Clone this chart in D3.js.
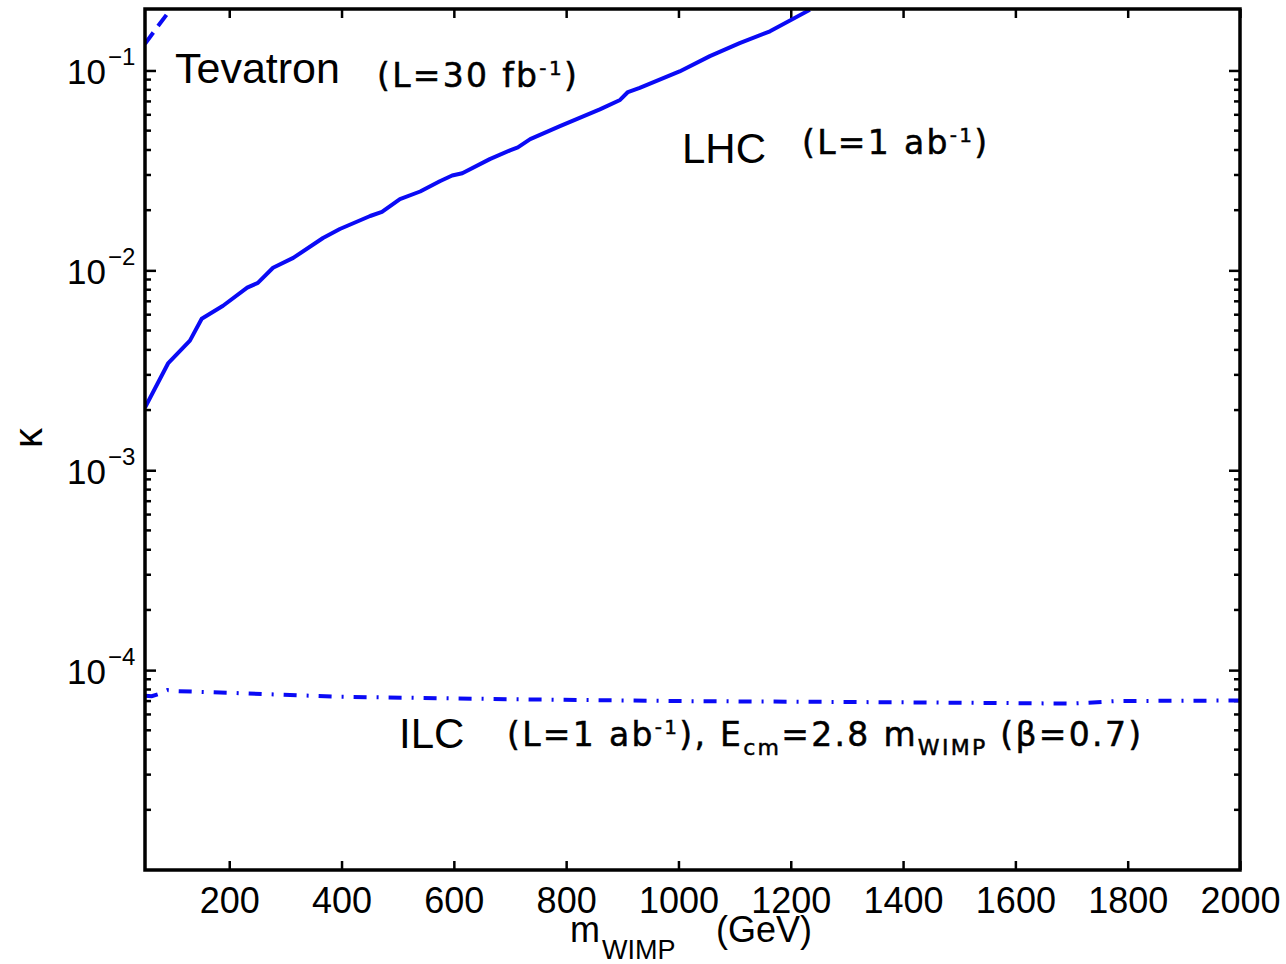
<!DOCTYPE html>
<html>
<head>
<meta charset="utf-8">
<script src="https://cdn.jsdelivr.net/npm/d3@7"></script>
<style>
  body { margin: 0; background: #fff; }
  svg { display: block; }
</style>
</head>
<body>
<div id="chart_div"></div>
<script>
// x axis ticks (GeV)
const xTicks = [200, 400, 600, 800, 1000, 1200, 1400, 1600, 1800, 2000];
// y axis decades
const yMajor = [1e-1, 1e-2, 1e-3, 1e-4];
const yExp = ["\u22121", "\u22122", "\u22123", "\u22124"];

// LHC (L = 1 ab^-1), solid
const lhcMass  = [50, 91, 130, 151, 189, 232, 251, 278, 314, 367, 397, 451, 472, 504, 540, 575, 597, 615, 664, 700, 714, 736, 789, 860, 896, 910, 931, 1002, 1056, 1109, 1163, 1234];
const lhcKappa = [0.00206, 0.00342, 0.00445, 0.00573, 0.00665, 0.00819, 0.00866, 0.0103, 0.01154, 0.01452, 0.0161, 0.0187, 0.0196, 0.0227, 0.0248, 0.0279, 0.0298, 0.0306, 0.0360, 0.0398, 0.0412, 0.0453, 0.0527, 0.0639, 0.0712, 0.0780, 0.0818, 0.0989, 0.118, 0.137, 0.157, 0.201];

// Tevatron (L = 30 fb^-1), dashed
const tevMass  = [50, 72, 100];
const tevKappa = [0.136, 0.165, 0.21];

// ILC (L = 1 ab^-1), dash-dot
const ilcMass  = [50, 62, 75, 90, 110, 200, 400, 700, 1000, 1400, 1700, 1780, 2000];
const ilcKappa = [7.45e-5, 7.4e-5, 7.6e-5, 7.95e-5, 7.85e-5, 7.7e-5, 7.35e-5, 7.15e-5, 7.0e-5, 6.9e-5, 6.8e-5, 7.0e-5, 7.05e-5];

const width = 1286;
const height = 964;
const pLeft = 145, pRight = 1240, pTop = 9, pBottom = 870;

const svg = d3.select("#chart_div")
    .append("svg")
    .attr("width", width)
    .attr("height", height);

const x = d3.scaleLinear()
    .domain([50, 2000])
    .range([pLeft, pRight]);

const y = d3.scaleLog()
    .domain([1e-5, 0.203])
    .range([pBottom, pTop]);

svg.append("clipPath")
    .attr("id", "plot")
    .append("rect")
    .attr("x", pLeft)
    .attr("y", pTop)
    .attr("width", pRight - pLeft)
    .attr("height", pBottom - pTop);

const tickFont = "'Liberation Sans', Arial, Helvetica, sans-serif";

// bottom axis with labels, ticks pointing in
const xAxis = svg.append("g")
    .attr("transform", `translate(0,${pBottom})`)
    .call(d3.axisBottom(x).tickValues(xTicks).tickSize(-9).tickPadding(17).tickFormat(d3.format("d")));
xAxis.select(".domain").remove();
xAxis.selectAll("line").attr("stroke", "#000").attr("stroke-width", 2.5);
xAxis.selectAll("text").attr("font-family", tickFont).attr("font-size", 36).attr("fill", "#000");

// top axis, ticks only
const xTop = svg.append("g")
    .attr("transform", `translate(0,${pTop})`)
    .call(d3.axisTop(x).tickValues(xTicks).tickSize(-9).tickFormat(""));
xTop.select(".domain").remove();
xTop.selectAll("line").attr("stroke", "#000").attr("stroke-width", 2.5);

// y major ticks left and right
const yLeft = svg.append("g")
    .attr("transform", `translate(${pLeft},0)`)
    .call(d3.axisLeft(y).tickValues(yMajor).tickSize(-11).tickFormat(""));
yLeft.select(".domain").remove();
yLeft.selectAll("line").attr("stroke", "#000").attr("stroke-width", 2.5);

const yRight = svg.append("g")
    .attr("transform", `translate(${pRight},0)`)
    .call(d3.axisRight(y).tickValues(yMajor).tickSize(-11).tickFormat(""));
yRight.select(".domain").remove();
yRight.selectAll("line").attr("stroke", "#000").attr("stroke-width", 2.5);

// minor log ticks
const minor = [];
[1e-5, 1e-4, 1e-3, 1e-2, 1e-1].forEach(d => {
    for (let k = 2; k <= 9; k++) {
        const v = k * d;
        if (v < 0.2) minor.push(v);
    }
});
svg.append("g").selectAll("line.ml")
    .data(minor).enter().append("line")
    .attr("x1", pLeft).attr("x2", pLeft + 6)
    .attr("y1", d => y(d)).attr("y2", d => y(d))
    .attr("stroke", "#000").attr("stroke-width", 2.5);
svg.append("g").selectAll("line.mr")
    .data(minor).enter().append("line")
    .attr("x1", pRight).attr("x2", pRight - 6)
    .attr("y1", d => y(d)).attr("y2", d => y(d))
    .attr("stroke", "#000").attr("stroke-width", 2.5);

// y tick labels 10^-n
const yLab = svg.append("g").attr("font-family", tickFont).attr("fill", "#000");
yMajor.forEach((v, i) => {
    yLab.append("text")
        .attr("x", 106).attr("y", y(v) + 14)
        .attr("text-anchor", "end")
        .attr("font-size", 35)
        .text("10");
    yLab.append("text")
        .attr("x", 108).attr("y", y(v) - 5)
        .attr("font-size", 24)
        .text(yExp[i]);
});

// curves
const line = d3.line()
    .x(d => x(d[0]))
    .y(d => y(d[1]));

const curves = svg.append("g").attr("clip-path", "url(#plot)");

curves.append("path")
    .datum(d3.zip(lhcMass, lhcKappa))
    .attr("d", line)
    .attr("fill", "none")
    .attr("stroke", "#0a0af5")
    .attr("stroke-width", 4)
    .attr("stroke-linejoin", "round");

curves.append("path")
    .datum(d3.zip(tevMass, tevKappa))
    .attr("d", line)
    .attr("fill", "none")
    .attr("stroke", "#0a0af5")
    .attr("stroke-width", 4)
    .attr("stroke-dasharray", "14,8");

curves.append("path")
    .datum(d3.zip(ilcMass, ilcKappa))
    .attr("d", line)
    .attr("fill", "none")
    .attr("stroke", "#0a0af5")
    .attr("stroke-width", 4)
    .attr("stroke-dasharray", "13,10,2,10");

// frame
svg.append("rect")
    .attr("x", pLeft).attr("y", pTop)
    .attr("width", pRight - pLeft).attr("height", pBottom - pTop)
    .attr("fill", "none")
    .attr("stroke", "#000")
    .attr("stroke-width", 3.5);

// axis titles
const xt = svg.append("g").attr("font-family", tickFont).attr("fill", "#000");
xt.append("text").attr("x", 570).attr("y", 942).attr("font-size", 36).text("m");
xt.append("text").attr("x", 602).attr("y", 959).attr("font-size", 27).text("WIMP");
xt.append("text").attr("x", 716).attr("y", 942).attr("font-size", 36).text("(GeV)");

svg.append("text")
    .attr("transform", "translate(42,438) rotate(-90)")
    .attr("text-anchor", "middle")
    .attr("font-family", tickFont)
    .attr("font-size", 40)
    .text("\u03ba");

// annotations
const big = "'Liberation Sans', Arial, sans-serif";
const small = "'DejaVu Sans', Verdana, sans-serif";

function paren(g, xp, yp, parts) {
    const t = g.append("text")
        .attr("x", xp).attr("y", yp)
        .attr("font-family", small)
        .attr("font-size", 33)
        .attr("letter-spacing", 2.3)
        .attr("fill", "#000")
        .attr("stroke", "#000")
        .attr("stroke-width", 0.5);
    parts.forEach(p => {
        const s = t.append("tspan").text(p[0]);
        if (p[1] === "sup") s.attr("font-size", 20).attr("dy", -12);
        if (p[1] === "sub") s.attr("font-size", 22).attr("dy", 9);
        if (p[1] === "up") s.attr("dy", -9);
        if (p[1] === "down") s.attr("dy", 12);
    });
}

const ann = svg.append("g");
ann.append("text").attr("x", 175).attr("y", 83).attr("font-family", big).attr("font-size", 43).text("Tevatron");
paren(ann, 377, 87, [["(L=30 fb"], ["-1", "sup"], [")", "down"]]);

ann.append("text").attr("x", 682).attr("y", 163).attr("font-family", big).attr("font-size", 42).text("LHC");
paren(ann, 802, 154, [["(L=1 ab"], ["-1", "sup"], [")", "down"]]);

ann.append("text").attr("x", 399).attr("y", 748).attr("font-family", big).attr("font-size", 42).text("ILC");
paren(ann, 507, 746, [["(L=1 ab"], ["-1", "sup"], ["), E", "down"], ["cm", "sub"], ["=2.8 m", "up"], ["WIMP", "sub"], [" (\u03b2=0.7)", "up"]]);
</script>
</body>
</html>
